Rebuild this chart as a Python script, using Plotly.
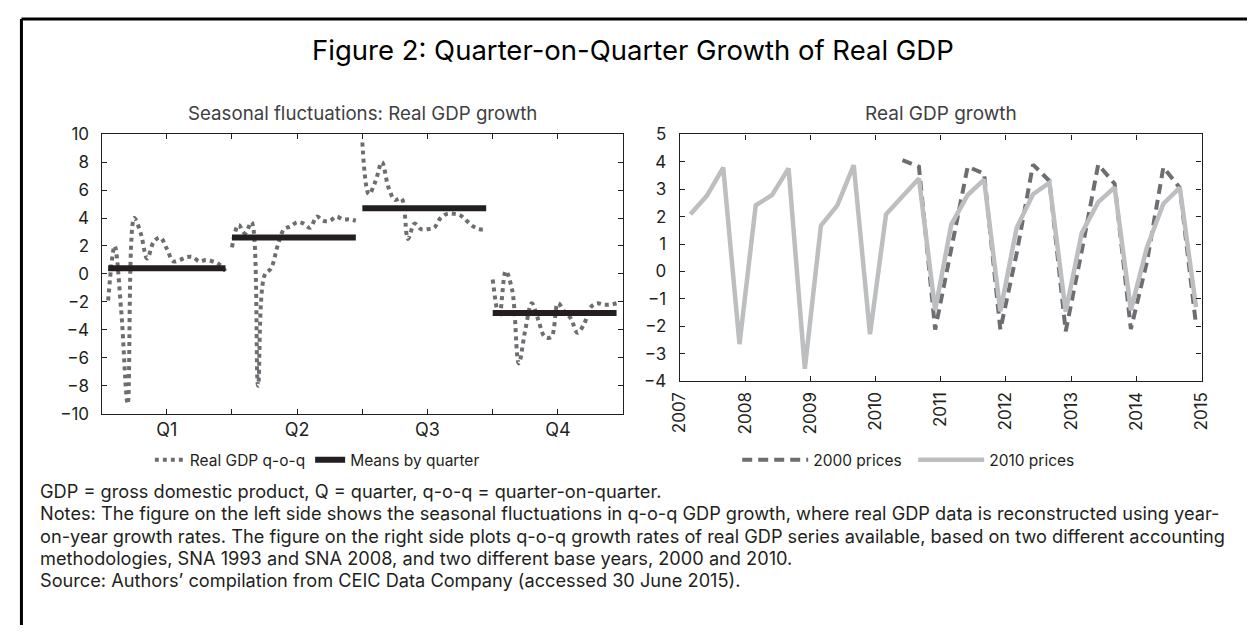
import plotly.graph_objects as go

PAGE_W, PAGE_H = 1255, 633
MARGIN = 8  # default page body margin around the figure
W, H = PAGE_W - 2 * MARGIN, PAGE_H - 2 * MARGIN
FONT = "Inter"
INK = "#231f20"

# ---------------- data: left panel (q-o-q growth by quarter, one value per year) ----
quarters = ["Q1", "Q2", "Q3", "Q4"]
q1_growth = [None, -1.9, 2.0, -2.6, -9.3, 4.0, 2.9, 1.1, 2.3, 2.6, 1.8, 0.9, 1.0, 1.2, 1.2, 0.9, 1.0, 0.9, 0.7, 0.2]
q2_growth = [1.9, 3.5, 2.9, 3.7, -8.0, -0.1, 0.4, 2.0, 3.2, 3.4, 3.7, 3.6, 3.3, 4.1, 3.8, 3.8, 4.1, 3.9, 3.9, 3.8]
q3_growth = [9.4, 5.7, 6.6, 8.0, 6.2, 5.3, 5.4, 2.5, 3.6, 3.2, 3.2, 3.3, 4.0, 4.3, 4.3, 4.2, 3.8, 3.4, 3.2, 3.2]
q4_growth = [-0.4, -3.1, 0.2, -1.2, -6.4, -4.0, -2.1, -3.3, -4.5, -4.5, -2.1, -2.7, -3.2, -4.2, -3.6, -2.4, -2.1, -2.2, -2.2, -2.1]
quarter_means = [0.4, 2.6, 4.7, -2.8]

# ---------------- data: right panel (quarterly q-o-q growth) ----------------
years_2010 = [2007, 2008, 2009, 2010, 2011, 2012, 2013, 2014]
quarter_end_months = [3, 6, 9, 12]
gdp_2010_prices = [2.09, 2.76, 3.79, -2.65,
                   2.41, 2.79, 3.76, -3.55,
                   1.67, 2.41, 3.88, -2.29,
                   2.09, 2.76, 3.39, -1.41,
                   1.71, 2.79, 3.35, -1.45,
                   1.59, 2.82, 3.24, -1.47,
                   1.41, 2.53, 3.07, -1.41,
                   0.88, 2.47, 3.06, -1.30]
gdp_2000_prices = [4.06, 3.82, -2.12,
                   0.75, 3.82, 3.57, -2.12,
                   0.65, 3.90, 3.30, -2.18,
                   0.75, 3.90, 3.20, -2.10,
                   0.35, 3.80, 3.05, -1.95]

periods_2010 = [f"{y}-{m:02d}-01" for y in years_2010 for m in quarter_end_months]
periods_2000 = periods_2010[len(periods_2010) - len(gdp_2000_prices):]

# ---------------- build left-panel traces ----------------
series = [q1_growth, q2_growth, q3_growth, q4_growth]
n_obs = len(q2_growth)
xs, ys, mx, my = [], [], [], []
for qi, vals in enumerate(series):
    pts = [(qi + k / n_obs, v) for k, v in enumerate(vals) if v is not None]
    xs += [p[0] for p in pts] + [None]
    ys += [p[1] for p in pts] + [None]
    mx += [pts[0][0], pts[-1][0], None]
    my += [quarter_means[qi], quarter_means[qi], None]

fig = go.Figure()
fig.add_trace(go.Scatter(
    x=xs, y=ys, mode="lines", name="Real GDP q-o-q",
    line=dict(color="#6d6e71", width=4, dash="dot", shape="spline", smoothing=1),
    xaxis="x", yaxis="y", legend="legend", connectgaps=False))
fig.add_trace(go.Scatter(
    x=mx, y=my, mode="lines", name="Means by quarter",
    line=dict(color=INK, width=6),
    xaxis="x", yaxis="y", legend="legend", connectgaps=False))

fig.add_trace(go.Scatter(
    x=periods_2000, y=gdp_2000_prices, mode="lines", name="2000 prices",
    line=dict(color="#6d6e71", width=4, dash="10px,6px"),
    xaxis="x2", yaxis="y2", legend="legend2"))
fig.add_trace(go.Scatter(
    x=periods_2010, y=gdp_2010_prices, mode="lines", name="2010 prices",
    line=dict(color="#bcbec0", width=4.5),
    xaxis="x2", yaxis="y2", legend="legend2"))


def px_x(p):
    """page pixel (x) -> paper fraction"""
    return (p - MARGIN) / W


def px_y(p):
    """page pixel (y) -> paper fraction"""
    return 1 - (p - MARGIN) / H


axis_common = dict(showline=True, linecolor=INK, linewidth=1.3, mirror="ticks",
                   ticks="inside", ticklen=5, tickwidth=1.2, tickcolor=INK,
                   showgrid=False, zeroline=False,
                   tickfont=dict(family=FONT, size=17, color=INK))

q_tickvals = [i / 2 for i in range(9)]
q_ticktext = [quarters[i // 2] if i % 2 == 1 else "" for i in range(9)]

fig.update_layout(
    width=W, height=H, autosize=False,
    margin=dict(l=0, r=0, t=0, b=0),
    paper_bgcolor="white", plot_bgcolor="white",
    font=dict(family=FONT, color=INK),
    xaxis=dict(domain=[px_x(93), px_x(623)], range=[0, 4], tickvals=q_tickvals,
               ticktext=q_ticktext, anchor="y", **{**axis_common,
               "tickfont": dict(family=FONT, size=18, color=INK)}),
    yaxis=dict(domain=[px_y(417), px_y(128)], range=[-10, 10], dtick=2, tick0=0,
               anchor="x", ticklabelstandoff=8, **axis_common),
    xaxis2=dict(domain=[px_x(680.7), px_x(1211)], type="date",
                range=["2007-01-01", "2015-01-01"], dtick="M12", tick0="2007-01-01",
                tickformat="%Y", tickangle=-90, anchor="y2", ticklabelstandoff=3,
                **axis_common),
    yaxis2=dict(domain=[px_y(383.3), px_y(128.3)], range=[-4, 5], dtick=1, tick0=0,
                anchor="x2", ticklabelstandoff=9, **axis_common),
    showlegend=True,
    legend=dict(orientation="h", x=px_x(142), xanchor="left", y=px_y(465), yanchor="middle",
                font=dict(family=FONT, size=15.5, color=INK), bgcolor="rgba(0,0,0,0)",
                traceorder="normal"),
    legend2=dict(orientation="h", x=px_x(739), xanchor="left", y=px_y(465), yanchor="middle",
                 font=dict(family=FONT, size=15.5, color=INK), bgcolor="rgba(0,0,0,0)",
                 traceorder="normal", itemwidth=66, entrywidth=95),
)

# frame lines (top and left edges of the figure box)
fig.add_shape(type="line", xref="paper", yref="paper", x0=px_x(11.5), x1=1.05,
              y0=px_y(9), y1=px_y(9), line=dict(color="black", width=3))
fig.add_shape(type="line", xref="paper", yref="paper", x0=px_x(11.5), x1=px_x(11.5),
              y0=px_y(9), y1=-0.05, line=dict(color="black", width=3))

annots = [
    dict(text="Figure 2: Quarter-on-Quarter Growth of Real GDP", x=px_x(633), y=px_y(41),
         xanchor="center", yanchor="middle", font=dict(family=FONT, size=27.5, color="black")),
    dict(text="Seasonal fluctuations: Real GDP growth", x=px_x(358), y=px_y(107),
         xanchor="center", yanchor="middle", font=dict(family=FONT, size=18.7, color="#414042")),
    dict(text="Real GDP growth", x=px_x(946), y=px_y(107),
         xanchor="center", yanchor="middle", font=dict(family=FONT, size=19, color="#414042")),
]
notes = [
    "GDP = gross domestic product, Q = quarter, q-o-q = quarter-on-quarter.",
    "Notes: The figure on the left side shows the seasonal fluctuations in q-o-q GDP growth, where real GDP data is reconstructed using year-",
    "on-year growth rates. The figure on the right side plots q-o-q growth rates of real GDP series available, based on two different accounting",
    "methodologies, SNA 1993 and SNA 2008, and two different base years, 2000 and 2010.",
    "Source: Authors\u2019 compilation from CEIC Data Company (accessed 30 June 2015).",
]
for i, line in enumerate(notes):
    annots.append(dict(text=line, x=px_x(28), y=px_y(497 + 23 * i), xanchor="left",
                       yanchor="middle", font=dict(family=FONT, size=18.2, color=INK)))
for a in annots:
    a.update(xref="paper", yref="paper", showarrow=False)
fig.update_layout(annotations=annots)

fig.write_html("out.html")
